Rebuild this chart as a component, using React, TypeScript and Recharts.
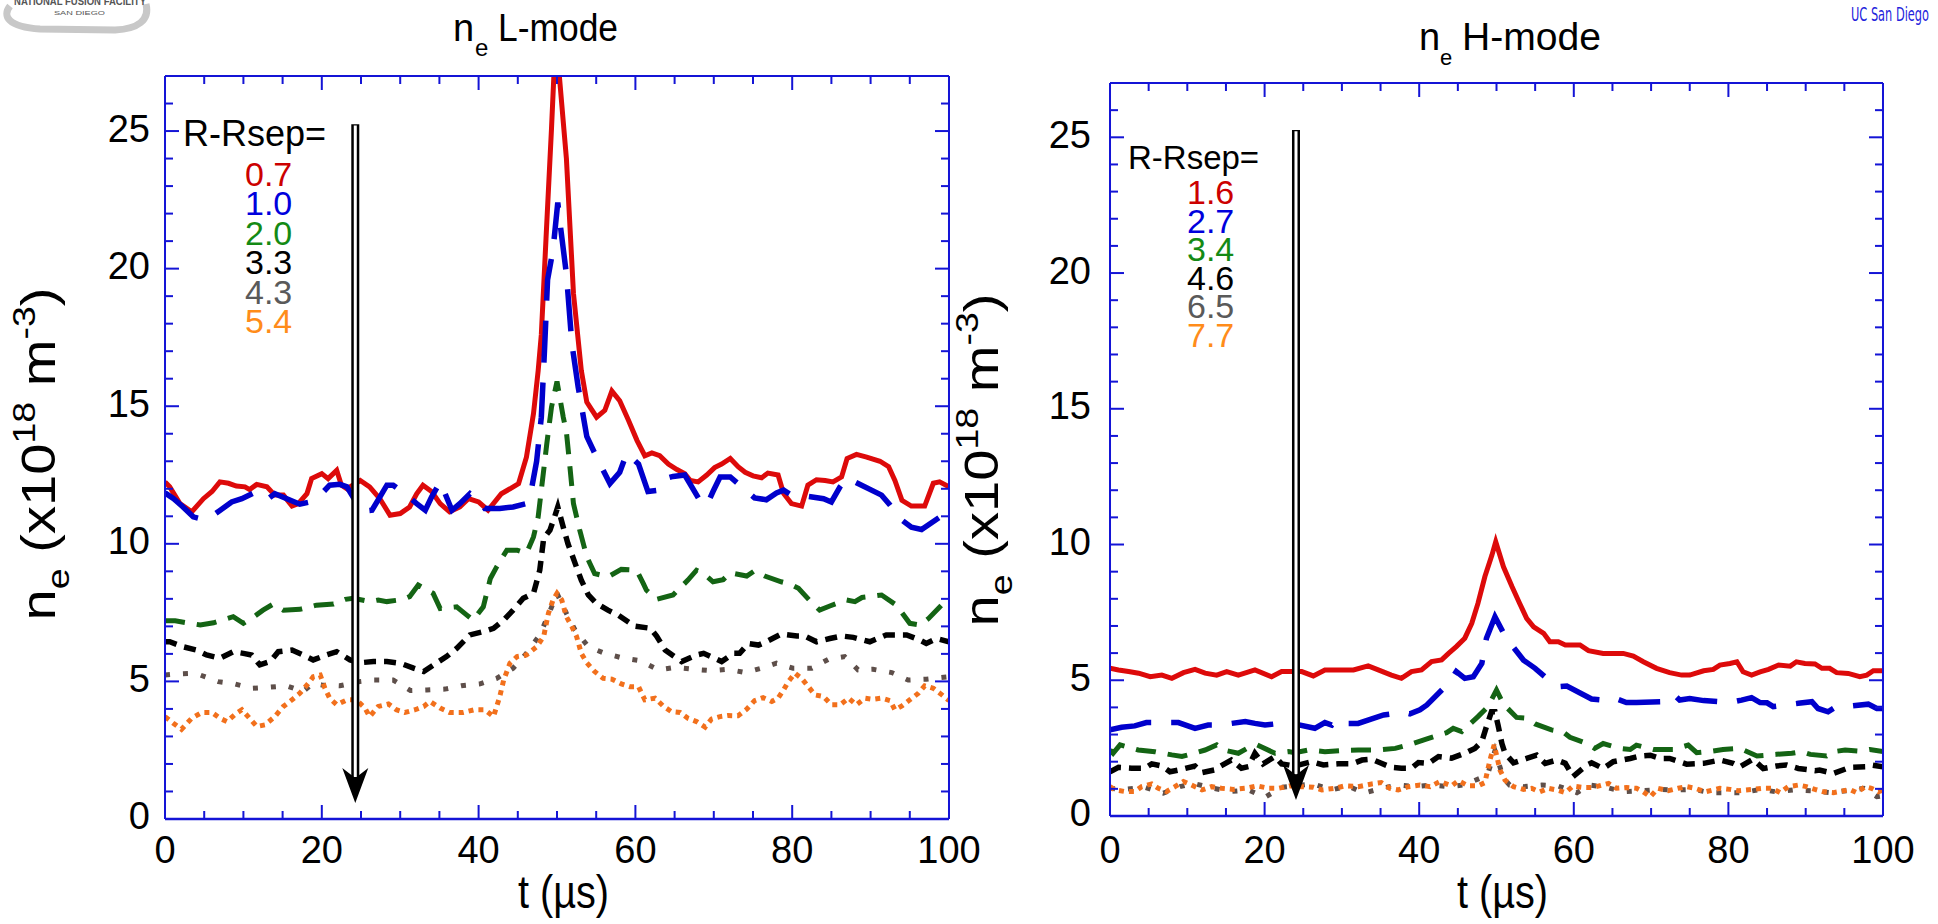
import React from "react";
import { LineChart, Line, XAxis, YAxis, ReferenceLine, ReferenceDot } from "recharts";

// n_e traces, [t (µs), n_e (x1e18 m^-3)]
// ---- L-mode panel ----
const lRed = [[0,12.25],[0.6,12.07],[1.9,11.46],[3.4,11.16],[4.9,11.64],[6,11.9],[7,12.25],[8.1,12.2],[9.1,12.1],[10.2,12.07],[10.8,11.97],[11.7,12.16],[13,12.07],[14,11.77],[15.1,11.77],[16.2,11.37],[17,11.46],[18.1,11.82],[18.7,12.37],[20,12.55],[20.8,12.37],[21.9,12.67],[22.5,12.13],[23.2,12.0],[24.9,12.3],[26.1,12.07],[27.4,11.64],[28.7,11.04],[30,11.1],[31.2,11.34],[32.1,11.82],[32.9,12.13],[34,11.9],[35.1,11.46],[36.3,11.16],[37.6,11.34],[38.7,11.64],[40,11.52],[41.2,11.22],[42.9,11.82],[44,12.0],[45.1,12.19],[46.1,13.15],[47,14.73],[47.6,16.3],[48,17.6],[48.6,21.1],[49.3,25.1],[49.6,27],[50.3,27],[51.2,24.0],[52.1,19.1],[53.1,16.3],[53.8,15.15],[55.05,14.6],[56.1,14.85],[57,15.55],[58,15.2],[59.1,14.5],[60.2,13.76],[61.2,13.2],[62.1,13.3],[63.1,13.2],[64.2,12.9],[65.3,12.7],[66.3,12.55],[67,12.3],[68,12.25],[69.1,12.5],[70.1,12.77],[71,12.9],[72.1,13.1],[73.1,12.8],[74,12.6],[75,12.47],[76.1,12.4],[76.9,12.57],[78.2,12.5],[78.9,11.83],[79.9,11.46],[81.2,11.37],[82,12.13],[83.1,12.33],[84.2,12.3],[85.2,12.25],[86.3,12.43],[87,13.1],[88.2,13.25],[89.5,13.15],[91.2,13.0],[92.3,12.8],[93.1,12.3],[94,11.58],[95.2,11.37],[96.9,11.37],[98,12.2],[98.8,12.25],[100,12.07]];
const lBlue = [[0,11.85],[1.1,11.64],[2.3,11.34],[3.6,10.98],[4.7,10.9],[5.5,10.9],[8.5,11.52],[9.8,11.64],[11.3,11.85],[12.1,11.8],[13,11.6],[14,11.82],[17.2,11.44],[18.5,11.52],[19.8,11.77],[21,12.13],[22.3,12.16],[23.2,12.07],[25.1,11.18],[26.4,11.22],[27.4,11.7],[28.3,12.13],[29.1,12.13],[31,11.73],[32.1,11.46],[33.2,11.22],[34,11.7],[35.1,12.25],[36.6,11.22],[37.6,11.46],[38.9,11.82],[40,11.58],[40.8,11.28],[42.7,11.28],[44.4,11.34],[46.1,11.46],[46.8,12.07],[47.4,13.0],[48,14.6],[48.4,17.0],[48.8,19.6],[49.5,20.7],[50.1,22.4],[50.5,21.4],[51.2,19.8],[51.9,17.27],[52.7,15.7],[53.8,13.9],[55.05,13.15],[56.75,12.19],[58,12.6],[58.9,13.3],[60.4,12.9],[61.6,11.9],[62.9,11.95],[63.8,12.37],[64.8,12.45],[66.3,12.5],[68.4,11.49],[69.1,11.4],[69.9,11.9],[70.8,12.43],[72.1,12.43],[75.2,11.67],[76.7,11.6],[78,11.85],[78.9,11.95],[79.9,11.77],[81,11.77],[84,11.64],[85,11.52],[86.1,12.07],[87,12.39],[88.4,12.19],[91.4,11.77],[92.5,11.4],[94,10.86],[95.2,10.6],[96.5,10.52],[99.5,11.1],[100,11.1]];
const lGreen = [[0,7.2],[1.3,7.2],[4.5,7.05],[6.2,7.13],[8.7,7.35],[10,7.11],[11.05,7.29],[12.5,7.59],[13.8,7.81],[15.1,7.59],[17.2,7.62],[19.3,7.77],[21.5,7.81],[23,7.98],[24,8.02],[26.1,7.9],[27.2,7.96],[28.3,7.9],[30.4,7.98],[31.2,8.08],[32.3,8.5],[34.2,8.2],[35.1,7.65],[37.2,7.71],[38.5,7.41],[39.3,7.23],[40.6,7.71],[41.5,8.74],[42.3,9.16],[43.6,9.77],[44.9,9.77],[46.1,9.65],[47,10.25],[47.6,10.98],[48,11.95],[48.7,13.64],[49.3,14.97],[50,15.9],[50.8,14.6],[51.2,14.06],[51.65,12.79],[52.1,11.46],[52.9,10.5],[53.8,9.53],[54.8,8.92],[56.5,8.8],[58.2,9.07],[60.15,9.04],[61,8.56],[61.4,8.32],[62.7,7.98],[64.8,8.14],[66.7,8.68],[67.8,9.04],[68.7,8.92],[69.9,8.62],[71.2,8.7],[72.1,8.95],[74.2,8.83],[75.2,9.02],[76.5,8.83],[78.6,8.62],[79.7,8.54],[80.8,8.38],[82.5,7.86],[83.5,7.59],[84.8,7.74],[86.9,7.96],[88,7.9],[88.9,8.05],[91.4,8.14],[93.3,7.77],[95,7.11],[96.3,7.05],[97.4,7.29],[99.3,7.84],[100,8.08]];
const lBlack = [[0,6.44],[0.6,6.44],[2.3,6.26],[4,6.14],[5.3,5.96],[7,5.84],[8.7,6.08],[10,6.02],[11.05,5.96],[12.1,5.6],[13.4,5.72],[14.45,6.08],[16.2,6.14],[17.6,5.96],[18.9,5.78],[20.6,5.96],[21.9,6.08],[23.6,5.78],[24.9,5.68],[26.6,5.72],[28.3,5.72],[30,5.66],[31.7,5.48],[33,5.36],[34.6,5.66],[35.9,5.9],[37.2,6.2],[38.9,6.69],[40.6,6.81],[41.9,6.93],[43.2,7.23],[44.4,7.59],[45.7,8.02],[47,8.2],[47.8,9.04],[48.3,10.2],[49.1,10.5],[49.6,10.9],[50.1,11.34],[50.8,10.6],[51.4,10.0],[52.3,9.3],[53.1,8.68],[54,8.14],[55.05,7.83],[56.5,7.59],[57.8,7.41],[59.9,7.01],[61.9,6.93],[62.7,6.65],[63.8,6.14],[65.9,5.72],[67.8,5.96],[68.7,6.02],[70.1,5.84],[71,5.72],[72.5,6.02],[73.3,6.02],[74.4,6.38],[75.7,6.32],[76.7,6.44],[78.6,6.72],[80.6,6.65],[81.6,6.65],[83.1,6.44],[84.8,6.56],[86.3,6.65],[87.8,6.6],[89.9,6.44],[92,6.69],[94.6,6.69],[96.3,6.5],[97.1,6.38],[98.4,6.56],[100,6.44]];
const lGray = [[0,5.23],[1.5,5.27],[3.2,5.29],[4.5,5.23],[6.8,4.99],[8.9,4.91],[11.05,4.75],[13.4,4.79],[15.5,4.84],[17.6,4.63],[18.9,4.93],[20,4.87],[22.3,4.84],[24.7,4.99],[26.6,5.05],[29.1,5.05],[31.3,4.67],[33.4,4.69],[35.7,4.72],[37.8,4.84],[40.2,4.91],[42.3,5.11],[44.4,5.48],[46.1,6.02],[47.8,6.69],[48.9,7.41],[50,8.2],[51.2,7.47],[52.3,6.87],[54,6.26],[56.1,6.02],[58.5,5.84],[60.6,5.75],[62.9,5.42],[65,5.51],[67.4,5.44],[69.7,5.39],[71.8,5.44],[74,5.32],[76.1,5.48],[78,5.66],[80.1,5.48],[82.5,5.48],[84.6,5.8],[86.7,5.9],[88.4,5.42],[90.3,5.44],[92.7,5.32],[94.8,5.05],[97.1,5.08],[100,5.17]];
const lOrange = [[0,3.72],[1.06,3.48],[2.1,3.26],[3.4,3.66],[4.7,3.87],[6,3.87],[7,3.66],[7.9,3.54],[9.1,3.84],[9.8,3.97],[10.6,3.72],[11.7,3.36],[12.75,3.42],[14,3.72],[15.1,4.09],[16.2,4.33],[17.2,4.57],[18.3,4.93],[18.9,5.17],[19.8,5.23],[20.4,4.75],[21,4.39],[21.9,4.15],[23.2,4.33],[24.4,4.33],[25.5,4.03],[26.1,3.72],[27.2,4.09],[28.5,4.18],[29.5,3.97],[30.6,3.87],[31.9,3.97],[33,4.09],[33.8,4.27],[35.1,4.03],[36.3,3.87],[38,3.87],[39.5,3.97],[40.8,3.97],[41.9,3.72],[42.7,4.45],[43.2,5.05],[44,5.66],[44.9,5.9],[46.1,5.96],[47.4,6.26],[48.3,6.63],[48.9,7.47],[49.5,7.96],[50,8.2],[50.6,7.96],[51.2,7.35],[51.9,6.99],[52.5,6.63],[53.1,6.02],[53.8,5.68],[54.8,5.36],[55.9,5.11],[57,5.08],[58.2,4.91],[59.3,4.81],[60.4,4.81],[61.2,4.33],[62.5,4.39],[63.6,4.09],[64.6,3.9],[65.7,3.87],[66.7,3.66],[67.8,3.54],[68.9,3.34],[69.7,3.63],[70.8,3.72],[71.8,3.76],[73.1,3.75],[74.2,3.99],[75.2,4.3],[76.3,4.41],[77.4,4.27],[78.2,4.39],[78.9,4.69],[79.5,4.99],[80.35,5.3],[81.2,5.11],[82.05,4.81],[82.9,4.51],[84,4.45],[85,4.15],[86.1,4.15],[87.2,4.39],[88.2,4.15],[89.3,4.39],[90.3,4.35],[91.4,4.39],[92.5,4.3],[93.1,3.97],[94,4.11],[95,4.33],[96.1,4.57],[96.9,4.84],[98,4.75],[99.1,4.51],[100,4.3]];

// ---- H-mode panel ----
const hRed = [[0,5.44],[1.1,5.38],[2.4,5.32],[3.7,5.26],[5.2,5.13],[6.7,5.19],[8,5.07],[9.5,5.28],[11,5.4],[12.3,5.26],[13.8,5.19],[15.1,5.32],[16.6,5.19],[18.75,5.38],[20.9,5.13],[22.2,5.32],[24.8,5.32],[26.3,5.16],[27.8,5.38],[29.5,5.38],[31.5,5.38],[33.4,5.53],[34.7,5.38],[36.4,5.19],[37.7,5.07],[39,5.32],[40.3,5.38],[41.6,5.69],[42.9,5.75],[43.8,5.99],[44.8,6.24],[45.9,6.55],[46.8,7.1],[47.6,7.83],[48.5,8.82],[49.4,9.6],[49.9,10.1],[50.9,9.18],[52,8.45],[53,7.83],[53.9,7.28],[54.8,6.97],[56.1,6.73],[56.9,6.42],[58,6.42],[58.9,6.3],[60.8,6.3],[61.9,6.09],[63.8,5.99],[66.4,5.99],[67.7,5.89],[69,5.68],[70.7,5.44],[72.4,5.28],[73.95,5.19],[75,5.19],[76.8,5.35],[78.05,5.4],[78.9,5.56],[80.2,5.62],[81.1,5.68],[81.9,5.31],[83,5.19],[84.1,5.31],[85.2,5.4],[86.5,5.56],[88,5.52],[88.8,5.68],[89.9,5.62],[91.2,5.6],[92.1,5.44],[93.1,5.44],[94,5.28],[95.5,5.25],[97,5.13],[97.9,5.19],[98.75,5.35],[100,5.35]];
const hBlue = [[0,3.17],[1.5,3.27],[3.2,3.32],[4.7,3.44],[5.4,3.44],[8.85,3.44],[11,3.23],[12.7,3.35],[14.2,3.35],[17.5,3.48],[18.75,3.41],[20.05,3.35],[21.3,3.39],[23.1,3.44],[26.5,3.23],[27.8,3.44],[28.7,3.35],[29.75,3.6],[30.8,3.41],[32.1,3.41],[35.4,3.72],[36.9,3.78],[37.7,3.84],[38.8,3.76],[40.1,3.91],[41,4.09],[43.8,4.89],[44.8,5.32],[45.9,5.07],[47,5.13],[48.1,5.62],[48.7,6.55],[49.8,7.34],[50.7,6.85],[51.3,6.54],[53.5,5.74],[55,5.44],[56.5,5.07],[57.8,4.76],[59.1,4.79],[62.3,4.31],[63.8,4.27],[65.1,4.36],[66.8,4.18],[68.1,4.18],[71.4,4.21],[72.9,4.49],[73.7,4.27],[75,4.33],[76.8,4.25],[80.2,4.18],[81.7,4.27],[83,4.36],[84.1,4.18],[85,4.17],[85.8,4.03],[89.05,4.15],[90.8,4.21],[91.6,3.96],[92.9,3.84],[93.8,4.0],[94.9,4.02],[98.1,4.12],[99.2,3.96],[100,3.96]];
const hGreen = [[0,2.43],[0.4,2.31],[1.3,2.62],[3.66,2.43],[5.8,2.37],[8,2.25],[9.3,2.19],[10.1,2.25],[12.3,2.43],[13.8,2.62],[14.7,2.43],[16.6,2.31],[17.9,2.52],[19,2.62],[21.35,2.31],[23.1,2.37],[23.9,2.33],[25.65,2.43],[27.8,2.37],[30,2.41],[32.1,2.43],[34.5,2.43],[36.9,2.49],[39,2.65],[41.2,2.86],[43.55,3.07],[44.4,3.23],[45.5,3.11],[47.6,3.66],[48.9,4.03],[50,4.64],[50.9,4.12],[52.6,3.63],[53.9,3.6],[55,3.39],[57.1,3.17],[58.6,3.1],[59.5,2.9],[61.7,2.67],[62.7,2.49],[63.8,2.67],[66,2.49],[67.3,2.45],[68.1,2.61],[70.3,2.45],[72.9,2.45],[74.8,2.61],[75.9,2.33],[77.4,2.37],[79.3,2.45],[81.5,2.49],[83.7,2.21],[86.2,2.27],[88.2,2.31],[89.5,2.37],[90.6,2.27],[92.7,2.21],[93.6,2.37],[95.1,2.43],[97,2.39],[98.3,2.45],[100,2.37]];
const hBlack = [[0,1.63],[1.1,1.79],[2.8,1.76],[4.5,1.76],[5.4,1.92],[6.7,1.84],[7.75,1.63],[9.3,1.72],[11,1.84],[11.9,1.6],[13.6,1.7],[14.2,1.82],[15.7,2.06],[17,1.76],[17.9,1.82],[18.75,2.31],[19.8,1.92],[21.35,2.19],[22.2,1.92],[23.9,1.84],[26.1,2.0],[27.6,1.88],[29.5,1.92],[31.3,1.92],[32.6,2.06],[33.85,2.09],[35.1,1.94],[36.4,1.79],[37.7,1.76],[39,1.76],[39.9,1.97],[41.2,1.94],[42.5,2.19],[44.2,2.13],[45.9,2.31],[47.2,2.49],[48.1,2.74],[48.7,3.29],[49.35,3.84],[49.8,3.84],[50.2,3.35],[50.7,2.67],[51.1,2.31],[52.2,1.96],[53.9,2.12],[55.2,2.24],[56.3,1.94],[57.8,2.06],[58.9,1.94],[59.9,1.45],[61.7,1.88],[62.3,1.96],[63.8,1.75],[65.1,2.0],[67.3,2.12],[68.6,2.21],[69.9,2.24],[71.2,2.12],[72.4,2.12],[74.6,1.91],[76.8,1.94],[78.9,2.06],[80.6,1.94],[81.5,1.81],[83.2,2.09],[84.5,1.75],[86.2,1.84],[87.5,1.88],[89.05,1.75],[91.2,1.67],[91.8,1.69],[93.6,1.57],[95.7,1.79],[97.7,1.81],[98.5,1.88],[100,1.81]];
const hGray = [[0,1.02],[1.94,0.98],[4.5,1.06],[6.9,0.84],[9.05,1.08],[10.8,1.2],[13.4,1.02],[15.5,0.9],[17.9,0.96],[20.05,0.69],[22.2,1.06],[26.3,1.18],[28.7,0.96],[30.8,1.11],[32.8,0.84],[35.1,1.02],[37.3,1.14],[39.4,1.08],[41.6,1.14],[43.8,1.08],[45.7,1.14],[47.9,1.39],[48.9,1.57],[49.8,2.4],[50.9,1.39],[51.7,1.14],[53.5,1.08],[55.85,1.14],[58,1.1],[60.4,0.86],[62.1,1.14],[64.25,1.05],[66.4,0.89],[68.8,0.93],[71.15,0.98],[73.3,0.96],[75.5,0.98],[77.6,0.86],[79.8,0.86],[81.9,0.86],[84.1,0.98],[86.2,0.89],[88.4,0.96],[90.8,0.93],[93.1,0.86],[95.3,0.93],[97.5,1.02],[99.2,0.71],[100,0.75]];
const hOrange = [[0,1.08],[0.64,0.96],[1.94,0.9],[3.2,0.9],[4.1,1.08],[5.4,1.18],[6.25,1.02],[7.3,0.9],[8.4,1.08],[9.5,1.27],[10.55,1.14],[11.9,0.96],[13.15,1.08],[14.4,1.02],[15.95,0.98],[17.45,1.02],[19,1.11],[20.5,1.02],[21.8,1.02],[23.3,1.11],[24.8,1.08],[26.3,1.06],[27.4,0.96],[29.1,1.02],[30.4,1.11],[32.1,1.08],[33.85,1.18],[35.1,1.23],[36.2,1.02],[37.3,0.96],[38.6,1.08],[40.1,1.14],[41.4,1.08],[42.7,1.27],[44.2,1.11],[45.05,1.3],[46.35,1.11],[47.6,1.11],[48.5,1.23],[49.15,2.06],[49.7,2.62],[50.45,1.69],[51.1,1.32],[52.2,1.08],[53.5,0.98],[54.55,1.02],[55.6,0.89],[56.7,1.02],[57.8,0.96],[58.9,0.86],[59.9,1.1],[61.2,1.05],[62.5,1.05],[64.5,1.2],[65.5,1.02],[66.8,1.05],[68.1,1.02],[69,0.89],[69.9,0.71],[70.9,1.02],[72.2,0.93],[73.5,1.02],[74.6,1.08],[75.7,1.02],[77,0.89],[78.9,1.02],[80.2,0.98],[81.3,0.93],[83.2,0.98],[84.5,1.02],[85.6,1.02],[86.7,0.86],[87.75,1.08],[89.05,1.14],[90.1,1.08],[91.2,0.98],[92.3,0.89],[93.6,0.86],[94.9,0.93],[95.7,0.98],[96.6,0.86],[97.7,1.08],[98.5,1.02],[99.4,0.89],[100,0.95]];

// R - Rsep labels (cm)
const lLegend = ["0.7", "1.0", "2.0", "3.3", "4.3", "5.4"];
const hLegend = ["1.6", "2.7", "3.4", "4.6", "6.5", "7.7"];

const xTicks = [0, 5, 10, 15, 20, 25, 30, 35, 40, 45, 50, 55, 60, 65, 70, 75, 80, 85, 90, 95, 100];
const yTicks = [0, 1, 2, 3, 4, 5, 6, 7, 8, 9, 10, 11, 12, 13, 14, 15, 16, 17, 18, 19, 20, 21, 22, 23, 24, 25, 26, 27];
const xLabelEvery = 20;
const yLabelEvery = 5;

const FONT = "'Liberation Sans', Arial, Helvetica, sans-serif";
const AXIS = "#1414d6";
const THIN = 0.01; // axes take no room, margins place the plot box

// line styles, same order as the legend
const styles = [
  { color: "#dd0a0a", text: "#cc0000", dash: undefined as string | undefined, w: 5 },
  { color: "#0000cc", text: "#0000dd", dash: "42 20", w: 5.5 },
  { color: "#146414", text: "#148a14", dash: "20 12", w: 5 },
  { color: "#000000", text: "#000000", dash: "12 8", w: 5.5 },
  { color: "#5e4f4a", text: "#5a5a5a", dash: "5 13", w: 5 },
  { color: "#f2701c", text: "#ff8c1a", dash: "5 5", w: 5 },
];

const pts = (a: number[][]) => a.map(([t, v]) => ({ t, v }));

type Box = { top: number; bottom: number; left: number; right: number };

// x tick: inward marks on bottom and top frame, label on majors
const makeXTick = (box: Box, dy: number) => ({ x, payload }: any) => {
  const major = payload.value % xLabelEvery === 0;
  const len = major ? 14 : 8;
  return (
    <g>
      <line x1={x} y1={box.bottom} x2={x} y2={box.bottom - len} stroke={AXIS} strokeWidth={2} />
      <line x1={x} y1={box.top} x2={x} y2={box.top + len} stroke={AXIS} strokeWidth={2} />
      {major && (
        <text x={x} y={box.bottom + dy} textAnchor="middle" fontSize={38} fontFamily={FONT} fill="#000">
          {payload.value}
        </text>
      )}
    </g>
  );
};

// y tick: inward marks on left and right frame, label on majors
const makeYTick = (box: Box, gap: number) => ({ y, payload }: any) => {
  const major = payload.value % yLabelEvery === 0;
  const len = major ? 14 : 8;
  return (
    <g>
      <line x1={box.left} y1={y} x2={box.left + len} y2={y} stroke={AXIS} strokeWidth={2} />
      <line x1={box.right} y1={y} x2={box.right - len} y2={y} stroke={AXIS} strokeWidth={2} />
      {major && (
        <text x={box.left - gap} y={y + 10.5} textAnchor="end" fontSize={38} fontFamily={FONT} fill="#000">
          {payload.value}
        </text>
      )}
    </g>
  );
};

function Arrow(props: any) {
  const { cx, cy } = props;
  if (cx == null || cy == null) return null;
  return <path d={`M${cx},${cy} L${cx - 13},${cy - 35} L${cx},${cy - 25} L${cx + 13},${cy - 35} Z`} fill="#000" />;
}

interface PanelProps {
  left: number;
  width: number;
  margin: { top: number; right: number; bottom: number; left: number };
  series: number[][][];
  arrow: { t: number; top: number; tip: number };
  xLabelDy: number;
  yLabelGap: number;
}

function Panel({ left, width, margin, series, arrow, xLabelDy, yLabelGap }: PanelProps) {
  const box: Box = { top: margin.top, bottom: 924 - margin.bottom, left: margin.left, right: width - margin.right };
  const XTick = makeXTick(box, xLabelDy);
  const YTick = makeYTick(box, yLabelGap);
  return (
    <div style={{ position: "absolute", left, top: 0 }}>
      <LineChart width={width} height={924} margin={margin}>
        <XAxis xAxisId="b" type="number" dataKey="t" domain={[0, 100]} allowDataOverflow ticks={xTicks} interval={0} height={THIN} tickSize={0} tickMargin={0} tick={<XTick />} tickLine={false} axisLine={{ stroke: AXIS, strokeWidth: 2.5 }} />
        <XAxis xAxisId="t" type="number" orientation="top" domain={[0, 100]} height={THIN} tick={false} tickLine={false} axisLine={{ stroke: AXIS, strokeWidth: 2 }} />
        <YAxis yAxisId="l" type="number" domain={[0, 27]} allowDataOverflow ticks={yTicks} interval={0} width={THIN} tickSize={0} tickMargin={0} tick={<YTick />} tickLine={false} axisLine={{ stroke: AXIS, strokeWidth: 2 }} />
        <YAxis yAxisId="r" type="number" orientation="right" domain={[0, 27]} width={THIN} tick={false} tickLine={false} axisLine={{ stroke: AXIS, strokeWidth: 2 }} />
        {series.map((s, i) => (
          <Line
            key={i}
            xAxisId="b"
            yAxisId="l"
            data={pts(s)}
            dataKey="v"
            type="linear"
            stroke={styles[i].color}
            strokeWidth={styles[i].w}
            strokeDasharray={styles[i].dash}
            dot={false}
            activeDot={false}
            isAnimationActive={false}
          />
        ))}
        <ReferenceLine
          xAxisId="b"
          yAxisId="l"
          segment={[{ x: arrow.t, y: arrow.top }, { x: arrow.t, y: arrow.tip + 0.9 }]}
          stroke="#000"
          strokeWidth={8}
          ifOverflow="visible"
        />
        <ReferenceLine
          xAxisId="b"
          yAxisId="l"
          segment={[{ x: arrow.t, y: arrow.top - 0.05 }, { x: arrow.t, y: arrow.tip + 0.95 }]}
          stroke="#fff"
          strokeWidth={3}
          ifOverflow="visible"
        />
        <ReferenceDot xAxisId="b" yAxisId="l" x={arrow.t} y={arrow.tip} r={1} shape={<Arrow />} ifOverflow="visible" />
      </LineChart>
    </div>
  );
}

function YLabel({ x, cy }: { x: number; cy: number }) {
  return (
    <text transform={`translate(${x},${cy}) rotate(-90) scale(1.17,1)`} textAnchor="middle" fontSize={48} fontFamily={FONT} fill="#000">
      n<tspan fontSize={32} dy={14}>e</tspan>
      <tspan dy={-14}> (x10</tspan>
      <tspan fontSize={32} dy={-20}>18</tspan>
      <tspan dy={20}> m</tspan>
      <tspan fontSize={32} dy={-20}>-3</tspan>
      <tspan dy={20}>)</tspan>
    </text>
  );
}

export default function App() {
  return (
    <div style={{ position: "absolute", left: 0, top: 0, width: 1938, height: 924, background: "#fff", overflow: "hidden" }}>
      <Panel
        left={0}
        width={1000}
        margin={{ top: 76, right: 51, bottom: 105, left: 165 }}
        series={[lRed, lBlue, lGreen, lBlack, lGray, lOrange]}
        arrow={{ t: 24.27, top: 25.25, tip: 0.58 }}
        xLabelDy={44}
        yLabelGap={15}
      />
      <Panel
        left={960}
        width={978}
        margin={{ top: 83, right: 55, bottom: 108, left: 150 }}
        series={[hRed, hBlue, hGreen, hBlack, hGray, hOrange]}
        arrow={{ t: 24.06, top: 25.27, tip: 0.59 }}
        xLabelDy={47}
        yLabelGap={19}
      />
      <svg width={1938} height={924} style={{ position: "absolute", left: 0, top: 0, pointerEvents: "none" }}>
        {/* logos */}
        <path d="M 10 6 C 2 16, 8 27, 40 29 L 115 30 C 138 29, 150 20, 146 4" stroke="#c8c8c8" strokeWidth={7} fill="none" />
        <text x={14} y={5} fontSize={10} fontWeight="bold" fontFamily={FONT} fill="#555" textLength={132} lengthAdjust="spacingAndGlyphs">NATIONAL FUSION FACILITY</text>
        <text x={54} y={15} fontSize={6} fontFamily={FONT} fill="#555" textLength={51} lengthAdjust="spacingAndGlyphs">SAN DIEGO</text>
        <text x={1851} y={21} fontSize={20} fontFamily="'DejaVu Sans', sans-serif" fill="#2323dc" textLength={78} lengthAdjust="spacingAndGlyphs">UC San Diego</text>

        {/* titles */}
        <text x={453} y={41} fontSize={38} fontFamily={FONT}>n</text>
        <text x={475} y={56} fontSize={24} fontFamily={FONT}>e</text>
        <text x={498} y={41} fontSize={38} fontFamily={FONT} textLength={120} lengthAdjust="spacingAndGlyphs">L-mode</text>
        <text x={1419} y={50} fontSize={38} fontFamily={FONT}>n</text>
        <text x={1440} y={65} fontSize={22} fontFamily={FONT}>e</text>
        <text x={1462} y={50} fontSize={38} fontFamily={FONT} textLength={139} lengthAdjust="spacingAndGlyphs">H-mode</text>

        {/* axis titles */}
        <YLabel x={55} cy={454} />
        <YLabel x={998} cy={460} />
        <text x={518} y={908} fontSize={46} fontFamily={FONT} textLength={91} lengthAdjust="spacingAndGlyphs">t (µs)</text>
        <text x={1457} y={908} fontSize={46} fontFamily={FONT} textLength={91} lengthAdjust="spacingAndGlyphs">t (µs)</text>

        {/* R-Rsep legends */}
        <text x={183} y={146} fontSize={36} fontFamily={FONT}>R-Rsep=</text>
        {lLegend.map((s, i) => (
          <text key={s} x={245} y={186 + i * 29.4} fontSize={34} fontFamily={FONT} fill={styles[i].text}>{s}</text>
        ))}
        <text x={1128} y={169} fontSize={33} fontFamily={FONT}>R-Rsep=</text>
        {hLegend.map((s, i) => (
          <text key={s} x={1187} y={204 + i * 28.6} fontSize={34} fontFamily={FONT} fill={styles[i].text}>{s}</text>
        ))}
      </svg>
    </div>
  );
}
